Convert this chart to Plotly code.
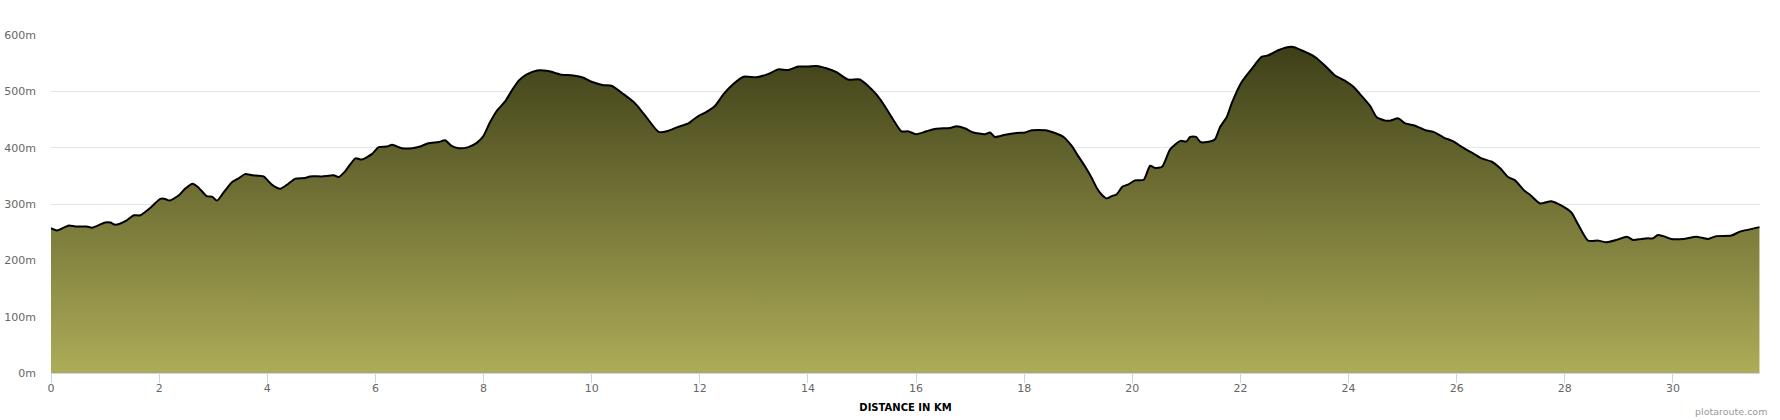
import plotly.graph_objects as go

dist_km = [0, 0.11, 0.33, 0.45, 0.66, 0.76, 1.0, 1.1, 1.19, 1.4,
           1.53, 1.65, 1.87, 2.02, 2.11, 2.19, 2.36, 2.48, 2.62, 2.73,
           2.88, 2.98, 3.07, 3.19, 3.35, 3.46, 3.59, 3.72, 3.93, 4.09,
           4.24, 4.39, 4.52, 4.70, 4.79, 5.01, 5.23, 5.32, 5.44,
           5.63, 5.75, 5.94, 6.06, 6.21, 6.31, 6.49, 6.68, 6.83, 6.98,
           7.17, 7.29, 7.41, 7.54, 7.72, 7.88, 8.0, 8.12, 8.25, 8.40,
           8.52, 8.65, 8.80, 8.99, 9.20, 9.42, 9.66, 9.85, 10.0, 10.22,
           10.37, 10.59, 10.80,
           10.99, 11.24, 11.39, 11.6, 11.79, 11.94, 12.13, 12.28, 12.44, 12.62,
           12.81, 13.05, 13.27, 13.45, 13.64, 13.82, 14.0, 14.16, 14.34, 14.53,
           14.74, 14.96, 15.11, 15.27, 15.42, 15.57, 15.73, 15.85, 16.0, 16.19,
           16.34,
           16.44, 16.63, 16.75, 16.91, 17.06, 17.27, 17.37, 17.46, 17.65, 17.86,
           18.02, 18.14, 18.39, 18.57, 18.73, 18.88, 19.0, 19.13, 19.25, 19.34,
           19.43, 19.53, 19.62, 19.71, 19.82, 19.93, 20.05, 20.21, 20.33, 20.42,
           20.55, 20.7, 20.89, 21.0, 21.07, 21.18, 21.26, 21.38, 21.53, 21.62,
           21.75,
           21.84, 22.02, 22.21, 22.39, 22.52, 22.70, 22.95, 23.13, 23.38, 23.56,
           23.75, 23.93, 24.09, 24.24, 24.4, 24.52, 24.68, 24.77, 24.92, 25.05,
           25.23, 25.42, 25.57, 25.76, 25.94, 26.1, 26.28, 26.46, 26.65, 26.8,
           26.95, 27.08, 27.26,
           27.35, 27.54, 27.75, 27.94, 28.12, 28.25, 28.43, 28.62, 28.77, 28.95,
           29.15, 29.26, 29.42, 29.54, 29.63, 29.72, 29.82, 29.97, 30.19, 30.43,
           30.65, 30.8, 31.08, 31.24, 31.42, 31.6]

elev_m = [257, 253, 262, 260, 260, 258, 267, 267, 263, 271,
          280, 280, 296, 309, 309, 306, 315, 327, 336, 329,
          314, 313, 306, 320, 339, 345, 353, 351, 349, 334,
          327, 336, 345, 346, 349, 349, 351, 348, 358,
          381, 379, 389, 401, 402, 405, 399, 399, 402, 408,
          410, 413, 403, 399, 401, 409, 421, 445, 466, 482,
          501, 519, 530, 537, 536, 530, 528, 524, 517, 511,
          510, 495, 479,
          457, 428, 429, 437, 443, 454, 464, 474, 495, 513,
          526, 525, 531, 539, 538, 544, 544, 545, 541, 534,
          521, 521, 510, 494, 474, 451, 429, 429, 424, 429,
          433,
          434, 435, 438, 434, 427, 424, 427, 419, 423, 426,
          427, 431, 431, 426, 419, 403, 385, 366, 346, 329,
          317, 310, 314, 317, 331, 335, 342, 343, 368, 364,
          366, 397, 412, 411, 419, 419, 410, 410, 415, 436,
          455,
          479, 516, 540, 561, 564, 573, 579, 573, 561, 546,
          528, 519, 508, 492, 474, 454, 448, 448, 452, 443,
          439, 431, 428, 418, 411, 401, 391, 381, 375, 364,
          348, 342, 323,
          317, 301, 305, 297, 285, 263, 235, 235, 232, 236,
          242, 236, 238, 239, 239, 245, 243, 238, 238, 242,
          238, 243, 244, 251, 255, 259]

y_ticks = [0, 100, 200, 300, 400, 500, 600]
y_tick_labels = ["0m", "100m", "200m", "300m", "400m", "500m", "600m"]
x_ticks = [0, 2, 4, 6, 8, 10, 12, 14, 16, 18, 20, 22, 24, 26, 28, 30]

FONT = "DejaVu Sans"

fig = go.Figure()
fig.add_trace(go.Scatter(
    x=dist_km, y=elev_m,
    mode="lines",
    line=dict(color="#000000", width=2, shape="spline", smoothing=0.6),
    fill="tozeroy",
    fillgradient=dict(type="vertical",
                      colorscale=[[0, "#adac58"], [1, "#3e3f18"]],
                      start=0, stop=max(elev_m)),
    hoverinfo="skip",
    showlegend=False,
))

fig.update_layout(
    width=1780, height=420,
    margin=dict(l=51, r=20, t=35, b=47, autoexpand=False),
    paper_bgcolor="#ffffff", plot_bgcolor="#ffffff",
    font=dict(family=FONT, size=11, color="#666666"),
    hovermode=False,
    xaxis=dict(
        range=[0, 31.61], tickvals=x_ticks,
        ticks="outside", ticklen=9, tickcolor="#ccd6eb", tickwidth=1,
        ticklabelstandoff=-4,
        showline=True, linecolor="#ccd6eb", linewidth=1,
        showgrid=False, zeroline=False, automargin=False,
        tickfont=dict(family=FONT, size=11, color="#666666"),
        title=dict(text="<b>DISTANCE IN KM</b>",
                   font=dict(family=FONT, size=10, color="#000000"),
                   standoff=9),
    ),
    yaxis=dict(
        range=[0, 600], tickvals=y_ticks, ticktext=y_tick_labels,
        showgrid=True, gridcolor="#e6e6e6", gridwidth=1,
        zeroline=False, showline=False, ticks="", automargin=False,
        ticklabelstandoff=14,
        tickfont=dict(family=FONT, size=11, color="#666666"),
    ),
    annotations=[dict(
        text="plotaroute.com", xref="paper", yref="paper",
        x=1.0, y=0, xanchor="right", yanchor="middle",
        xshift=9, yshift=-38.7,
        showarrow=False,
        font=dict(family=FONT, size=9.5, color="#999999"),
    )],
)

fig.write_html(
    "out.html",
    config={"displayModeBar": False},
    post_script="document.body.style.margin='0';document.body.style.overflow='hidden';",
)
